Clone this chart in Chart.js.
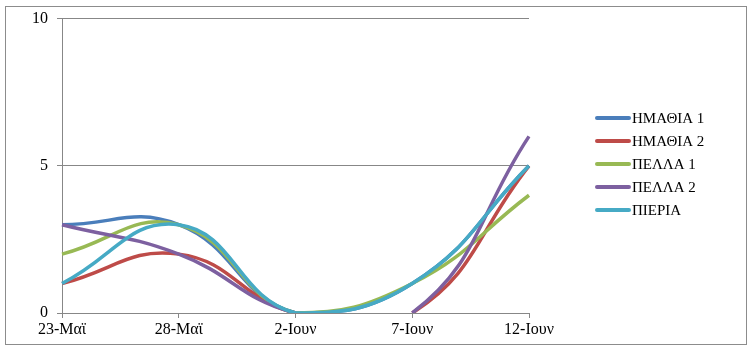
<!DOCTYPE html>
<html>
<head>
<meta charset="utf-8">
<script src="https://cdn.jsdelivr.net/npm/chart.js@4.4.1/dist/chart.umd.min.js"></script>
<style>
  html, body { margin: 0; padding: 0; background: #fff; }
  #wrap { width: 753px; height: 350px; }
</style>
</head>
<body>
<div id="wrap"><canvas id="chart" width="753" height="350"></canvas></div>
<script>
const dates = ['23-Μαϊ', '28-Μαϊ', '2-Ιουν', '7-Ιουν', '12-Ιουν'];
const seriesNames = ['ΗΜΑΘΙΑ 1', 'ΗΜΑΘΙΑ 2', 'ΠΕΛΛΑ 1', 'ΠΕΛΛΑ 2', 'ΠΙΕΡΙΑ'];
const imathia1 = [3, 3, 0, 1, 5];
const imathia2 = [1, 2, 0, 0, 5];
const pella1 = [2, 3, 0, 1, 4];
const pella2 = [3, 2, 0, 0, 6];
const pieria = [1, 3, 0, 1, 5];
const yTicks = [0, 5, 10];

const colors = ['#4A7EBB', '#BE4B48', '#98B954', '#7D60A0', '#46AAC5'];
const values = [imathia1, imathia2, pella1, pella2, pieria];
const axisGrey = '#878787';
const serif = "'Liberation Serif', 'Times New Roman', serif";

// hide flat runs at zero (no readings between those dates)
function hideZeroRun(ctx) {
  if (ctx.p0.parsed.y === 0 && ctx.p1.parsed.y === 0) return 'rgba(0,0,0,0)';
  return undefined;
}

const datasets = seriesNames.map((name, i) => ({
  label: name,
  data: values[i],
  borderColor: colors[i],
  backgroundColor: colors[i],
  borderWidth: 3.5,
  pointRadius: 0,
  tension: 0.45,
  fill: false,
  order: seriesNames.length - i,
  segment: { borderColor: hideZeroRun }
}));

const frameAndLegend = {
  id: 'frameAndLegend',
  afterDraw(chart) {
    const c = chart.ctx;
    c.save();
    c.strokeStyle = '#8c8c8c';
    c.lineWidth = 1;
    c.strokeRect(5.5, 6.5, 741, 338);

    c.font = '15px ' + serif;
    c.textBaseline = 'middle';
    c.textAlign = 'left';
    seriesNames.forEach((name, i) => {
      const y = 118 + i * 23;
      c.strokeStyle = colors[i];
      c.lineWidth = 4;
      c.lineCap = 'round';
      c.beginPath();
      c.moveTo(597, y);
      c.lineTo(629, y);
      c.stroke();
      c.fillStyle = '#000';
      c.fillText(name, 632, y + 1);
    });
    c.restore();
  }
};

new Chart(document.getElementById('chart').getContext('2d'), {
  type: 'line',
  data: { labels: dates, datasets: datasets },
  options: {
    responsive: false,
    animation: false,
    layout: { padding: { left: 0, right: 224, top: 16, bottom: 0 } },
    plugins: {
      legend: { display: false },
      tooltip: { enabled: false }
    },
    scales: {
      x: {
        offset: false,
        afterFit(scale) { scale.height = 37; },
        grid: {
          drawOnChartArea: false,
          drawTicks: true,
          tickLength: 5,
          color: axisGrey
        },
        border: { color: axisGrey, width: 1 },
        ticks: {
          color: '#000',
          font: { family: serif, size: 16 },
          padding: 2,
          maxRotation: 0,
          autoSkip: false
        }
      },
      y: {
        min: 0,
        max: 10,
        afterFit(scale) { scale.width = 62; },
        afterBuildTicks(scale) { scale.ticks = yTicks.map(v => ({ value: v })); },
        grid: {
          color: axisGrey,
          drawTicks: true,
          tickLength: 5
        },
        border: { color: axisGrey, width: 1 },
        ticks: {
          color: '#000',
          font: { family: serif, size: 16 },
          padding: 9
        }
      }
    }
  },
  plugins: [frameAndLegend]
});
</script>
</body>
</html>
